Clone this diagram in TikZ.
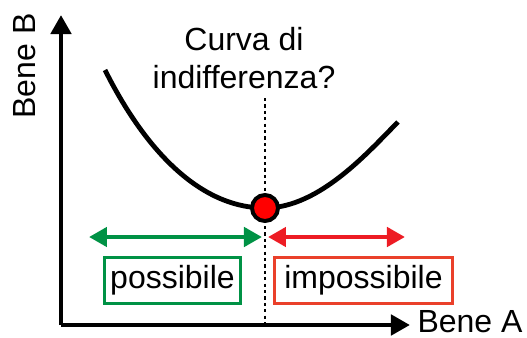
\documentclass[tikz,border=0pt]{standalone}
\usepackage{fontspec}
\setmainfont{Liberation Sans}
\usetikzlibrary{arrows.meta,positioning}
\definecolor{okgreen}{RGB}{0,146,69}
\definecolor{nored}{RGB}{237,28,36}
\definecolor{noredbox}{RGB}{234,64,42}

\begin{document}
\begin{tikzpicture}[
    x=0.5pt, y=-0.5pt,
    axis/.style={line width=2.4pt, -{Triangle[length=9.5pt, width=10pt]}},
    span/.style={line width=2.4pt, {Triangle[length=9pt, width=9.5pt]}-{Triangle[length=9pt, width=9.5pt]}},
    zonebox/.style={rectangle, line width=1.7pt, minimum width=68pt, minimum height=23pt,
                 inner sep=0pt, align=center, font=\fontsize{16}{19}\selectfont},
    lbl/.style={font=\fontsize{16}{19}\selectfont, inner sep=0pt}
]
\useasboundingbox (0,0) rectangle (527,338);
% axes
\coordinate (origin) at (61,325);
\coordinate (ytip) at (61,15);
\coordinate (xtip) at (410,325);
\draw[axis] (origin) -- (ytip);
\draw[axis] (origin) -- (xtip);
\node[lbl, rotate=90] (ylabel) at (25,66) {Bene B};
\node[lbl] (xlabel) at (470,322) {Bene A};
% tangency line
\coordinate (ctop) at (265,98);
\coordinate (cbot) at (265,325);
\draw[line width=1.1pt, dash pattern=on 1.6pt off 1.6pt] (ctop) -- (cbot);
\node[lbl, align=center] (title) at (244,58) {Curva di\\indifferenza?};
% curve
\coordinate (cstart) at (105,70);
\coordinate (cmin) at (265,208);
\coordinate (cend) at (398,122);
\draw[line width=2.4pt] (cstart) .. controls (145,150) and (200,208) .. (cmin)
    .. controls (320,208) and (370,150) .. (cend);
\node[circle, draw=black, line width=2pt, fill=red, minimum size=26pt, inner sep=0pt, scale=0.5] (dot) at (cmin) {};
% ranges
\coordinate (gl) at (89,237);
\coordinate (gr) at (262,237);
\coordinate (rl) at (268,237);
\coordinate (rr) at (405,237);
\draw[span, okgreen] (gl) -- (gr);
\draw[span, nored] (rl) -- (rr);
\node[zonebox, draw=okgreen] (poss) at (172.5,280.5) {possibile};
\node[zonebox, draw=noredbox, minimum width=89pt] (imposs) at (363.5,280.5) {impossibile};
\end{tikzpicture}
\end{document}
